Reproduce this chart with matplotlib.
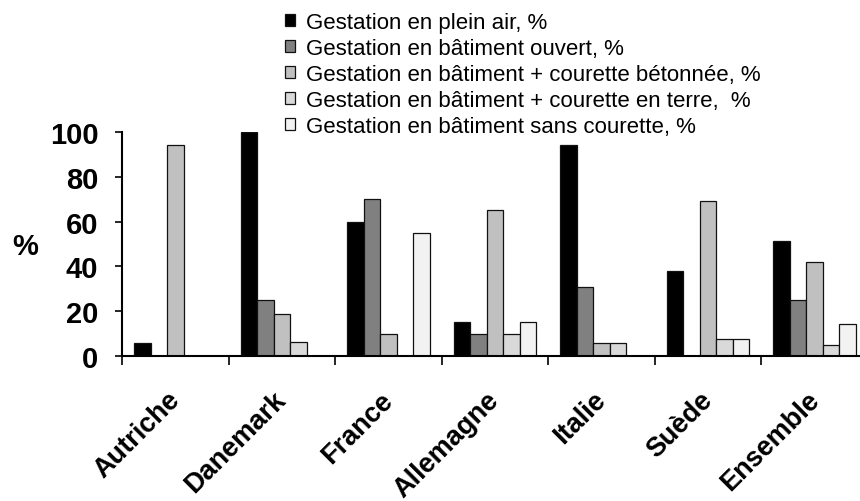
import numpy as np
import matplotlib
matplotlib.use('Agg')
import matplotlib.pyplot as plt
from matplotlib.patches import Patch

plt.rcParams['font.family'] = ['Liberation Sans', 'DejaVu Sans']

# pays (groupes)
pays = ['Autriche', 'Danemark', 'France', 'Allemagne', 'Italie', 'Suède', 'Ensemble']

# séries (%)
plein_air = [6, 100, 60, 15, 94, 38, 51.5]
bat_ouvert = [0, 25, 70, 10, 31, 0, 25]
courette_beton = [94, 18.75, 10, 65, 6, 69, 42]
courette_terre = [0, 6.25, 0, 10, 6, 7.5, 5]
sans_courette = [0, 0, 55, 15, 0, 7.5, 14.5]

labels = ['Gestation en plein air, %',
          'Gestation en bâtiment ouvert, %',
          'Gestation en bâtiment + courette bétonnée, %',
          'Gestation en bâtiment + courette en terre,  %',
          'Gestation en bâtiment sans courette, %']
series = [plein_air, bat_ouvert, courette_beton, courette_terre, sans_courette]
colors = ['#000000', '#808080', '#C0C0C0', '#D9D9D9', '#F2F2F2']

fig = plt.figure(figsize=(8.6, 5.02), dpi=100)
ax = fig.add_axes([122/860, 145/502, 746/860, 224/502])

x = np.arange(len(pays))
bw = 0.155
for j, (vals, c) in enumerate(zip(series, colors)):
    ax.bar(x + 0.5 + (j - 2) * bw, vals, width=bw, color=c,
           edgecolor='#111111', linewidth=0.9, zorder=2)

ax.set_xlim(0, 7)
ax.set_ylim(0, 100)
ax.set_yticks(np.arange(0, 101, 20))
ax.tick_params(axis='y', labelsize=21, length=5, width=1.2, pad=12)
for t in ax.get_yticklabels():
    t.set_fontweight('bold')

# ticks entre les groupes, étiquettes au centre
ax.set_xticks(np.arange(0, 8))
ax.set_xticklabels([])
ax.tick_params(axis='x', which='major', length=6.5, width=1.2)
ax.set_xticks(x + 0.5 + 0.09, minor=True)
ax.set_xticklabels(pays, minor=True, rotation=45, ha='right',
                   fontsize=19.5, fontweight='bold')
ax.tick_params(axis='x', which='minor', length=0, pad=22)

ax.spines['top'].set_visible(False)
ax.spines['right'].set_visible(False)
ax.spines['left'].set_linewidth(1.5)
ax.spines['bottom'].set_linewidth(1.5)

fig.text(25/860, 1 - 247/502, '%', fontsize=21, fontweight='bold',
         ha='center', va='center')

handles = [Patch(facecolor=c, edgecolor='#111111', linewidth=0.9) for c in colors]
fig.legend(handles, labels, loc='upper left',
           bbox_to_anchor=(285/860, 1 - 13/502), frameon=False,
           fontsize=16, handlelength=0.45, handleheight=0.45,
           handletextpad=0.5, labelspacing=0.22, borderpad=0,
           borderaxespad=0)

plt.savefig('out.png', dpi=100)
